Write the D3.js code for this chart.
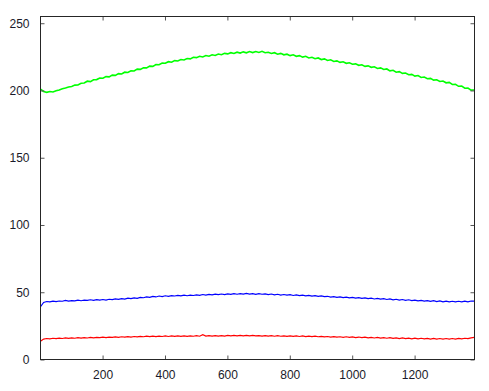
<!DOCTYPE html>
<html>
<head>
<meta charset="utf-8">
<script src="https://cdn.jsdelivr.net/npm/d3@7"></script>
<style>
  body { margin: 0; background: #fff; }
  svg { display: block; }
  .tick text { font-family: "Liberation Sans", Arial, sans-serif; font-size: 12px; fill: #1a1a2a; }
</style>
</head>
<body>
<svg id="chart" width="489" height="391"></svg>
<script>
// sample positions: every 10 columns starting at 1
const sampleStart = 1;
const sampleStep = 10;

const greenValues = [
  201.0, 199.3, 198.6, 199.2, 198.9, 199.8, 200.4, 201.3, 201.9, 202.6,
  203.0, 204.0, 204.1, 205.4, 205.6, 206.9, 206.6, 208.0, 208.1, 209.2,
  209.1, 210.3, 210.1, 211.4, 211.2, 212.5, 212.3, 213.6, 213.4, 214.6,
  214.5, 215.9, 215.7, 216.9, 216.8, 218.1, 217.9, 219.3, 219.1, 220.4,
  220.3, 221.4, 221.0, 222.2, 221.9, 223.0, 222.7, 223.8, 223.5, 224.7,
  224.4, 225.4, 224.9, 226.0, 225.5, 226.5, 226.0, 227.1, 226.6, 227.6,
  227.2, 228.1, 227.5, 228.5, 227.8, 228.7, 228.0, 228.9, 228.2, 229.0,
  228.3, 229.1, 228.1, 228.4, 227.5, 228.1, 227.0, 227.6, 226.5, 227.0,
  225.9, 226.5, 225.4, 225.9, 224.8, 225.4, 224.2, 224.7, 223.6, 224.2,
  223.0, 223.5, 222.3, 222.8, 221.6, 222.0, 220.9, 221.3, 220.2, 220.6,
  219.5, 219.8, 218.7, 219.1, 217.9, 218.3, 217.2, 217.6, 216.4, 216.8,
  215.6, 216.0, 214.6, 215.0, 213.6, 214.0, 212.7, 213.0, 211.7, 212.0,
  210.7, 211.1, 209.7, 210.0, 208.7, 209.0, 207.7, 208.0, 206.7, 207.0,
  205.7, 206.0, 204.5, 204.6, 203.1, 203.2, 201.7, 201.8, 200.3, 200.4
];

const blueValues = [
  39.2, 42.4, 43.1, 42.8, 43.4, 43.0, 43.5, 43.3, 43.9, 43.4,
  43.8, 43.6, 44.2, 43.7, 44.1, 43.9, 44.4, 44.0, 44.5, 44.1,
  44.6, 44.2, 44.8, 44.5, 45.0, 44.7, 45.3, 44.9, 45.6, 45.2,
  45.8, 45.5, 46.2, 45.9, 46.5, 46.2, 46.9, 46.5, 47.2, 46.8,
  47.4, 47.0, 47.5, 47.2, 47.7, 47.3, 47.8, 47.4, 47.9, 47.6,
  48.1, 47.7, 48.3, 47.9, 48.4, 48.0, 48.6, 48.2, 48.7, 48.3,
  48.8, 48.4, 48.9, 48.5, 49.0, 48.6, 49.1, 48.6, 49.0, 48.5,
  49.0, 48.5, 48.8, 48.3, 48.7, 48.1, 48.5, 47.9, 48.3, 47.8,
  48.2, 47.6, 48.0, 47.5, 47.8, 47.3, 47.7, 47.1, 47.5, 46.9,
  47.3, 46.7, 47.0, 46.4, 46.8, 46.2, 46.6, 46.0, 46.4, 45.8,
  46.2, 45.6, 46.0, 45.4, 45.8, 45.2, 45.6, 45.0, 45.4, 44.9,
  45.2, 44.6, 45.0, 44.4, 44.8, 44.2, 44.6, 44.0, 44.4, 43.8,
  44.2, 43.6, 44.0, 43.4, 43.8, 43.2, 43.7, 43.1, 43.5, 42.9,
  43.4, 42.9, 43.3, 42.8, 43.3, 42.8, 43.4, 42.9, 43.5, 43.4
];

const redValues = [
  13.6, 15.2, 15.6, 15.3, 15.8, 15.5, 15.9, 15.6, 16.0, 15.7,
  16.1, 15.8, 16.2, 15.9, 16.3, 16.0, 16.4, 16.1, 16.5, 16.2,
  16.6, 16.3, 16.7, 16.4, 16.8, 16.5, 16.9, 16.6, 17.0, 16.7,
  17.1, 16.8, 17.2, 16.9, 17.3, 17.0, 17.4, 17.0, 17.4, 17.1,
  17.5, 17.1, 17.5, 17.2, 17.6, 17.2, 17.6, 17.2, 17.6, 17.3,
  17.7, 17.3, 18.4, 17.4, 17.8, 17.4, 17.8, 17.4, 17.8, 17.4,
  17.9, 17.5, 17.9, 17.5, 17.9, 17.5, 17.9, 17.5, 17.9, 17.5,
  17.8, 17.4, 17.8, 17.4, 17.7, 17.3, 17.7, 17.3, 17.6, 17.2,
  17.6, 17.2, 17.5, 17.1, 17.5, 17.0, 17.4, 17.0, 17.3, 16.9,
  17.2, 16.8, 17.1, 16.7, 17.0, 16.6, 16.9, 16.5, 16.9, 16.4,
  16.8, 16.3, 16.7, 16.2, 16.6, 16.1, 16.5, 16.0, 16.4, 15.9,
  16.3, 15.8, 16.2, 15.7, 16.1, 15.6, 16.0, 15.5, 15.9, 15.4,
  15.9, 15.4, 15.8, 15.3, 15.7, 15.2, 15.7, 15.2, 15.6, 15.2,
  15.6, 15.1, 15.6, 15.2, 15.7, 15.3, 15.8, 15.5, 16.1, 16.4
];

const xTicks = [200, 400, 600, 800, 1000, 1200];
const yTicks = [0, 50, 100, 150, 200, 250];

const seriesList = [
  { name: 'green', color: '#00ff00', values: greenValues, width: 1.6 },
  { name: 'blue', color: '#0000ff', values: blueValues, width: 1.2 },
  { name: 'red', color: '#ff0000', values: redValues, width: 1.2 }
];

const svg = d3.select('#chart');
const plotLeft = 40.5, plotRight = 474.5, plotTop = 16.5, plotBottom = 359.5;

const x = d3.scaleLinear().domain([1, 1392]).range([plotLeft, plotRight]);
const y = d3.scaleLinear().domain([0, 255]).range([plotBottom, plotTop]);

const line = d3.line()
  .x((d, i) => x(sampleStart + i * sampleStep))
  .y(d => y(d));

svg.append('g')
  .selectAll('path')
  .data(seriesList)
  .join('path')
  .attr('fill', 'none')
  .attr('stroke', d => d.color)
  .attr('stroke-width', d => d.width)
  .attr('d', d => line(d.values));

// axes with inward ticks
const tickColor = '#555';
const fmt = d3.format('d');

const xAxis = svg.append('g')
  .attr('transform', `translate(0,${plotBottom})`)
  .call(d3.axisBottom(x).tickValues(xTicks).tickFormat(fmt).tickSize(-4).tickSizeOuter(0).tickPadding(11));
xAxis.select('.domain').remove();

svg.append('g')
  .attr('transform', `translate(0,${plotTop})`)
  .call(d3.axisTop(x).tickValues(xTicks).tickSize(-4).tickSizeOuter(0).tickFormat(''))
  .select('.domain').remove();

const yAxis = svg.append('g')
  .attr('transform', `translate(${plotLeft},0)`)
  .call(d3.axisLeft(y).tickValues(yTicks).tickFormat(fmt).tickSize(-4).tickSizeOuter(0).tickPadding(11));
yAxis.select('.domain').remove();

svg.append('g')
  .attr('transform', `translate(${plotRight},0)`)
  .call(d3.axisRight(y).tickValues(yTicks).tickSize(-4).tickSizeOuter(0).tickFormat(''))
  .select('.domain').remove();

svg.selectAll('.tick line').attr('stroke', tickColor);

// frame
svg.append('rect')
  .attr('x', plotLeft)
  .attr('y', plotTop)
  .attr('width', plotRight - plotLeft)
  .attr('height', plotBottom - plotTop)
  .attr('fill', 'none')
  .attr('stroke', '#262626')
  .attr('stroke-width', 1);
</script>
</body>
</html>
